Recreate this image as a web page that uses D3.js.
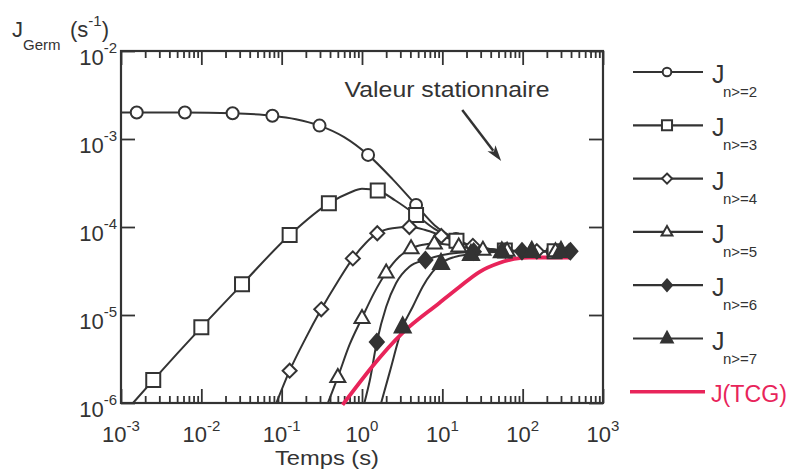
<!DOCTYPE html>
<html><head><meta charset="utf-8">
<script src="https://cdn.jsdelivr.net/npm/d3@7"></script>
<style>
body{margin:0;background:#fff}
text{font-family:"Liberation Sans",Arial,Helvetica,sans-serif;fill:#333}
</style>
</head><body>
<svg id="c" width="792" height="473"></svg>
<script>
// ---------- data ----------
const xTicks = [1e-3, 1e-2, 1e-1, 1, 10, 100, 1000];
const xTickExp = ["-3", "-2", "-1", "0", "1", "2", "3"];
const yTicks = [1e-6, 1e-5, 1e-4, 1e-3, 1e-2];
const yTickExp = ["-6", "-5", "-4", "-3", "-2"];

// J n>=2 (open circles)
const n2_t = [1e-3, 1.57e-3, 6.24e-3, 0.0245, 0.0766, 0.15, 0.296, 0.6, 1.19, 2.4, 4.71, 8, 14.8, 25, 40, 70, 150, 400];
const n2_J = [2.0e-3, 2.0e-3, 2.0e-3, 1.96e-3, 1.84e-3, 1.68e-3, 1.42e-3, 1.05e-3, 6.6e-4, 3.5e-4, 1.78e-4, 1.05e-4, 7.3e-5, 6.0e-5, 5.6e-5, 5.4e-5, 5.3e-5, 5.3e-5];
const n2_mt = [1.57e-3, 6.24e-3, 0.0245, 0.0766, 0.296, 1.19, 4.71, 14.8, 59, 236];
const n2_mJ = [2.0e-3, 2.0e-3, 1.96e-3, 1.84e-3, 1.42e-3, 6.6e-4, 1.78e-4, 7.3e-5, 5.4e-5, 5.3e-5];

// J n>=3 (open squares)
const n3_t = [1.41e-3, 2.52e-3, 1.0e-2, 0.0321, 0.1257, 0.387, 0.7, 1.0, 1.57, 2.6, 4.71, 8, 15, 30, 60, 150, 400];
const n3_J = [1.0e-6, 1.82e-6, 7.24e-6, 2.23e-5, 8.11e-5, 1.86e-4, 2.45e-4, 2.72e-4, 2.6e-4, 2.0e-4, 1.37e-4, 9.5e-5, 7.0e-5, 5.8e-5, 5.4e-5, 5.3e-5, 5.3e-5];
const n3_mt = [2.52e-3, 1.0e-2, 0.0321, 0.1257, 0.387, 1.57, 4.71, 15, 60, 250];
const n3_mJ = [1.82e-6, 7.24e-6, 2.23e-5, 8.11e-5, 1.86e-4, 2.6e-4, 1.37e-4, 7.0e-5, 5.4e-5, 5.3e-5];

// J n>=4 (open diamonds)
const n4_t = [0.0859, 0.1257, 0.2, 0.311, 0.5, 0.769, 1.1, 1.55, 2.4, 3.89, 6, 10, 18, 35, 80, 400];
const n4_J = [1e-6, 2.33e-6, 5.5e-6, 1.16e-5, 2.4e-5, 4.4e-5, 6.5e-5, 8.5e-5, 9.7e-5, 1.0e-4, 9.3e-5, 7.9e-5, 6.5e-5, 5.7e-5, 5.35e-5, 5.3e-5];
const n4_mt = [0.1257, 0.311, 0.769, 1.55, 3.89, 9.7, 24, 61, 150, 380];
const n4_mJ = [2.33e-6, 1.16e-5, 4.4e-5, 8.5e-5, 1.0e-4, 7.9e-5, 6.1e-5, 5.4e-5, 5.3e-5, 5.3e-5];

// J n>=5 (open triangles)
const n5_t = [0.376, 0.5, 0.7, 1.0, 1.4, 2.0, 2.9, 4.08, 5.8, 7.96, 12, 20, 35, 70, 150, 400];
const n5_J = [1e-6, 1.97e-6, 4.6e-6, 9.25e-6, 1.75e-5, 3.04e-5, 4.6e-5, 5.73e-5, 6.3e-5, 6.5e-5, 6.3e-5, 5.8e-5, 5.5e-5, 5.35e-5, 5.3e-5, 5.3e-5];
const n5_mt = [0.5, 1.0, 2.0, 4.08, 7.96, 16, 32, 64, 128, 256];
const n5_mJ = [1.97e-6, 9.25e-6, 3.04e-5, 5.73e-5, 6.5e-5, 6.0e-5, 5.5e-5, 5.35e-5, 5.3e-5, 5.3e-5];

// J n>=6 (filled diamonds)
const n6_t = [1.07, 1.25, 1.53, 2.0, 2.66, 3.89, 6.15, 10, 16, 30, 60, 150, 400];
const n6_J = [1e-6, 1.8e-6, 4.93e-6, 1.24e-5, 2.31e-5, 3.54e-5, 4.22e-5, 4.8e-5, 5.1e-5, 5.25e-5, 5.3e-5, 5.3e-5, 5.3e-5];
const n6_mt = [1.53, 6.15, 24.6, 98, 393];
const n6_mJ = [4.93e-6, 4.22e-5, 5.25e-5, 5.3e-5, 5.3e-5];

// J n>=7 (filled triangles)
const n7_t = [1.73, 2.2, 3.21, 4.28, 5.69, 9.63, 14, 22.7, 40, 80, 200, 400];
const n7_J = [1e-6, 2.2e-6, 7.36e-6, 1.24e-5, 2.1e-5, 3.87e-5, 4.55e-5, 4.9e-5, 5.15e-5, 5.3e-5, 5.3e-5, 5.3e-5];
const n7_mt = [3.21, 9.63, 22.7, 55, 130, 300];
const n7_mJ = [7.36e-6, 3.87e-5, 4.9e-5, 5.25e-5, 5.3e-5, 5.3e-5];

// J(TCG) (red line)
const tcg_t = [0.573, 3.18, 9.18, 16.3, 28.8, 51, 78, 120, 400];
const tcg_J = [9.5e-7, 6.24e-6, 1.37e-5, 2.08e-5, 3.08e-5, 3.9e-5, 4.33e-5, 4.5e-5, 4.5e-5];

// annotation "Valeur stationnaire" (data coordinates)
const annotText = "Valeur stationnaire";
const annotPos = [0.607, 3.0e-3];
const arrowFrom = [17.7, 2.14e-3];
const arrowTo = [54, 5.62e-4];

const legendLabels = ["n>=2", "n>=3", "n>=4", "n>=5", "n>=6", "n>=7"];

// ---------- drawing ----------
const INK = "#333", RED = "#e8245a";
const svg = d3.select("#c");
const x = d3.scaleLog().domain([1e-3, 1e3]).range([121, 603]);
const y = d3.scaleLog().domain([1e-6, 1e-2]).range([403, 51]);

const series = [
  {t: n2_t, J: n2_J, mt: n2_mt, mJ: n2_mJ, shape: "circle", filled: false},
  {t: n3_t, J: n3_J, mt: n3_mt, mJ: n3_mJ, shape: "square", filled: false},
  {t: n4_t, J: n4_J, mt: n4_mt, mJ: n4_mJ, shape: "diamond", filled: false},
  {t: n5_t, J: n5_J, mt: n5_mt, mJ: n5_mJ, shape: "triangle", filled: false},
  {t: n6_t, J: n6_J, mt: n6_mt, mJ: n6_mJ, shape: "fdiamond", filled: true},
  {t: n7_t, J: n7_J, mt: n7_mt, mJ: n7_mJ, shape: "ftriangle", filled: true}
];

function shapePath(shape, k) {
  switch (shape) {
    case "circle": { const r = 6 * k; return `M${-r},0A${r},${r} 0 1,0 ${r},0A${r},${r} 0 1,0 ${-r},0Z`; }
    case "square": { const s = 14 * k; return `M${-s/2},${-s/2}h${s}v${s}h${-s}Z`; }
    case "diamond": { const w = 14 * k, h = 14 * k; return `M0,${-h/2}L${w/2},0L0,${h/2}L${-w/2},0Z`; }
    case "fdiamond": { const w = 14 * k, h = 16 * k; return `M0,${-h/2}L${w/2},0L0,${h/2}L${-w/2},0Z`; }
    case "triangle": { const w = 15 * k, h = 13 * k; return `M0,${-h*0.62}L${w/2},${h*0.38}L${-w/2},${h*0.38}Z`; }
    case "ftriangle": { const w = 16 * k, h = 15 * k; return `M0,${-h*0.62}L${w/2},${h*0.38}L${-w/2},${h*0.38}Z`; }
  }
}

const line = d3.line().x(d => x(d[0])).y(d => y(d[1])).curve(d3.curveMonotoneX);

// axes ticks
const minorX = x.ticks().filter(v => !xTicks.some(m => Math.abs(Math.log10(v) - Math.log10(m)) < 1e-6));
function styleAxis(g) {
  g.select(".domain").remove();
  g.selectAll(".tick line").attr("stroke", INK).attr("stroke-width", 1.8);
}
svg.append("g").attr("transform", "translate(0,403)").call(d3.axisBottom(x).tickValues(minorX).tickSize(-7).tickFormat("")).call(styleAxis);
svg.append("g").attr("transform", "translate(0,403)").call(d3.axisBottom(x).tickValues(xTicks).tickSize(-14).tickFormat("")).call(styleAxis);
svg.append("g").attr("transform", "translate(0,51)").call(d3.axisTop(x).tickValues(minorX).tickSize(-7).tickFormat("")).call(styleAxis);
svg.append("g").attr("transform", "translate(0,51)").call(d3.axisTop(x).tickValues(xTicks).tickSize(-14).tickFormat("")).call(styleAxis);
svg.append("g").attr("transform", "translate(121,0)").call(d3.axisLeft(y).tickValues(yTicks).tickSize(-14).tickFormat("")).call(styleAxis);
svg.append("g").attr("transform", "translate(603,0)").call(d3.axisRight(y).tickValues(yTicks).tickSize(-14).tickFormat("")).call(styleAxis);

// frame
svg.append("rect").attr("x", x.range()[0]).attr("y", y.range()[1])
  .attr("width", x.range()[1] - x.range()[0]).attr("height", y.range()[0] - y.range()[1])
  .attr("fill", "none").attr("stroke", INK).attr("stroke-width", 2.2);

// tick labels
xTicks.forEach((v, i) => {
  const t = svg.append("text").attr("x", x(v)).attr("y", 442).attr("text-anchor", "middle").attr("font-size", 22);
  t.append("tspan").text("10");
  t.append("tspan").attr("dy", -11).attr("font-size", 15).text(xTickExp[i]);
});
yTicks.forEach((v, i) => {
  const t = svg.append("text").attr("x", 117).attr("y", y(v) + 14).attr("text-anchor", "end").attr("font-size", 22);
  t.append("tspan").text("10");
  t.append("tspan").attr("dy", -12).attr("font-size", 15).text(yTickExp[i]);
});

// axis titles
svg.append("text").attr("x", 327).attr("y", 465).attr("text-anchor", "middle").attr("font-size", 21)
  .attr("textLength", 104).attr("lengthAdjust", "spacingAndGlyphs").text("Temps (s)");
const yt = svg.append("text").attr("x", 12).attr("y", 37).attr("font-size", 22);
yt.append("tspan").text("J");
yt.append("tspan").attr("x", 23).attr("y", 50).attr("font-size", 15).text("Germ");
yt.append("tspan").attr("x", 70).attr("y", 37).text("(s");
yt.append("tspan").attr("dy", -11).attr("font-size", 15).text("-1");
yt.append("tspan").attr("dy", 11).text(")");

// series lines
series.forEach(s => {
  svg.append("path").datum(s.t.map((t, i) => [t, s.J[i]]))
    .attr("d", line).attr("fill", "none").attr("stroke", INK).attr("stroke-width", 2);
});
// red TCG line
svg.append("path").datum(tcg_t.map((t, i) => [t, tcg_J[i]]))
  .attr("d", line).attr("fill", "none").attr("stroke", RED).attr("stroke-width", 3.8);
// markers
series.forEach(s => {
  svg.append("g").selectAll("path").data(s.mt.map((t, i) => [t, s.mJ[i]])).join("path")
    .attr("transform", d => `translate(${x(d[0])},${y(d[1])})`)
    .attr("d", shapePath(s.shape, 1))
    .attr("fill", s.filled ? INK : "#fff").attr("stroke", INK).attr("stroke-width", 2);
});

// annotation
svg.append("text").attr("x", x(annotPos[0])).attr("y", y(annotPos[1])).attr("font-size", 22)
  .attr("textLength", 205).attr("lengthAdjust", "spacingAndGlyphs").text(annotText);
{
  const x1 = x(arrowFrom[0]), y1 = y(arrowFrom[1]), x2 = x(arrowTo[0]), y2 = y(arrowTo[1]);
  const ang = Math.atan2(y2 - y1, x2 - x1), L = 16, Wd = 5;
  const bx = x2 - L * Math.cos(ang), by = y2 - L * Math.sin(ang);
  svg.append("line").attr("x1", x1).attr("y1", y1).attr("x2", bx + 3 * Math.cos(ang)).attr("y2", by + 3 * Math.sin(ang))
    .attr("stroke", INK).attr("stroke-width", 2.5);
  const px = -Math.sin(ang), py = Math.cos(ang);
  const cx = x2 - (L - 4) * Math.cos(ang), cy = y2 - (L - 4) * Math.sin(ang);
  svg.append("path").attr("d", `M${x2},${y2}L${bx + Wd*px},${by + Wd*py}L${cx},${cy}L${bx - Wd*px},${by - Wd*py}Z`).attr("fill", INK);
}

// legend
const legY0 = 72, legStep = 53.3;
series.forEach((s, i) => {
  const ly = legY0 + i * legStep;
  svg.append("line").attr("x1", 633).attr("x2", 703).attr("y1", ly).attr("y2", ly).attr("stroke", INK).attr("stroke-width", 2.2);
  svg.append("path").attr("transform", `translate(667,${ly})`).attr("d", shapePath(s.shape, 0.72))
    .attr("fill", s.filled ? INK : "#fff").attr("stroke", INK).attr("stroke-width", 2);
  svg.append("text").attr("x", 712).attr("y", ly + 11).attr("font-size", 25).text("J");
  svg.append("text").attr("x", 723).attr("y", ly + 25).attr("font-size", 15).text(legendLabels[i]);
});
{
  const ly = legY0 + 6 * legStep;
  svg.append("line").attr("x1", 630).attr("x2", 705).attr("y1", ly).attr("y2", ly).attr("stroke", RED).attr("stroke-width", 3.5);
  svg.append("text").attr("x", 711).attr("y", ly + 10).attr("font-size", 23)
    .attr("textLength", 76).attr("lengthAdjust", "spacingAndGlyphs").style("fill", RED).text("J(TCG)");
}
</script>
</body></html>
